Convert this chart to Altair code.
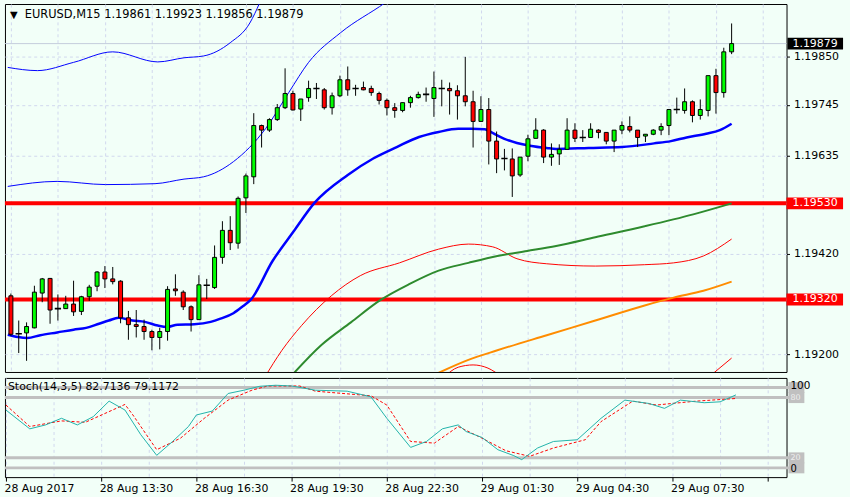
import altair as alt
import pandas as pd
import numpy as np

# ---------------- data ----------------
symbol = "EURUSD,M15"
time_label_idx = [0, 12, 24, 36, 48, 60, 72, 84]
time_labels = ["28 Aug 2017", "28 Aug 13:30", "28 Aug 16:30", "28 Aug 19:30",
               "28 Aug 22:30", "29 Aug 01:30", "29 Aug 04:30", "29 Aug 07:30"]
price_ticks = [1.19850, 1.19745, 1.19635, 1.19530, 1.19420, 1.19320, 1.19200]
levels = [1.19530, 1.19320]

opens = [1.19328, 1.19245, 1.19247, 1.19258, 1.19334, 1.19366, 1.19300, 1.19300, 1.19310, 1.19294,
         1.19326, 1.19349, 1.19380, 1.19365, 1.19360, 1.19280, 1.19265, 1.19261, 1.19250, 1.19237,
         1.19250, 1.19343, 1.19336, 1.19304, 1.19276, 1.19351, 1.19346, 1.19412, 1.19471, 1.19443,
         1.19542, 1.19588, 1.19700, 1.19690, 1.19713, 1.19739, 1.19770, 1.19736, 1.19761, 1.19781,
         1.19778, 1.19739, 1.19765, 1.19800, 1.19781, 1.19783, 1.19781, 1.19770, 1.19755, 1.19739,
         1.19733, 1.19750, 1.19761, 1.19768, 1.19759, 1.19781, 1.19781, 1.19776, 1.19765, 1.19752,
         1.19709, 1.19735, 1.19666, 1.19628, 1.19627, 1.19592, 1.19633, 1.19672, 1.19690, 1.19631,
         1.19638, 1.19648, 1.19690, 1.19674, 1.19674, 1.19690, 1.19685, 1.19666, 1.19690, 1.19698,
         1.19690, 1.19677, 1.19681, 1.19690, 1.19700, 1.19735, 1.19733, 1.19752, 1.19722, 1.19733,
         1.19809, 1.19772, 1.19861]
highs = [1.19333, 1.19274, 1.19270, 1.19350, 1.19367, 1.19367, 1.19331, 1.19328, 1.19361, 1.19328,
         1.19352, 1.19382, 1.19393, 1.19391, 1.19362, 1.19295, 1.19297, 1.19276, 1.19254, 1.19258,
         1.19349, 1.19375, 1.19340, 1.19307, 1.19373, 1.19365, 1.19438, 1.19491, 1.19502, 1.19545,
         1.19595, 1.19727, 1.19702, 1.19716, 1.19747, 1.19825, 1.19776, 1.19758, 1.19798, 1.19793,
         1.19782, 1.19772, 1.19809, 1.19829, 1.19789, 1.19796, 1.19787, 1.19774, 1.19759, 1.19749,
         1.19750, 1.19765, 1.19774, 1.19783, 1.19818, 1.19800, 1.19794, 1.19788, 1.19850, 1.19776,
         1.19764, 1.19760, 1.19687, 1.19649, 1.19650, 1.19631, 1.19680, 1.19716, 1.19692, 1.19661,
         1.19659, 1.19716, 1.19705, 1.19690, 1.19705, 1.19692, 1.19685, 1.19690, 1.19709, 1.19720,
         1.19690, 1.19681, 1.19692, 1.19705, 1.19735, 1.19761, 1.19781, 1.19755, 1.19757, 1.19809,
         1.19824, 1.19870, 1.19923]
lows = [1.19240, 1.19203, 1.19186, 1.19257, 1.19314, 1.19267, 1.19274, 1.19300, 1.19284, 1.19286,
        1.19317, 1.19338, 1.19345, 1.19353, 1.19268, 1.19232, 1.19237, 1.19232, 1.19209, 1.19211,
        1.19230, 1.19328, 1.19297, 1.19250, 1.19276, 1.19321, 1.19343, 1.19398, 1.19428, 1.19431,
        1.19509, 1.19572, 1.19652, 1.19686, 1.19710, 1.19736, 1.19733, 1.19710, 1.19752, 1.19758,
        1.19735, 1.19724, 1.19762, 1.19765, 1.19765, 1.19777, 1.19765, 1.19746, 1.19722, 1.19717,
        1.19729, 1.19739, 1.19759, 1.19752, 1.19719, 1.19742, 1.19724, 1.19713, 1.19742, 1.19652,
        1.19709, 1.19615, 1.19596, 1.19602, 1.19544, 1.19588, 1.19622, 1.19672, 1.19618, 1.19612,
        1.19614, 1.19648, 1.19664, 1.19664, 1.19674, 1.19672, 1.19659, 1.19642, 1.19681, 1.19685,
        1.19653, 1.19664, 1.19679, 1.19679, 1.19679, 1.19726, 1.19726, 1.19707, 1.19713, 1.19720,
        1.19726, 1.19761, 1.19856]
closes = [1.19244, 1.19245, 1.19261, 1.19336, 1.19365, 1.19297, 1.19300, 1.19310, 1.19293, 1.19326,
          1.19347, 1.19380, 1.19365, 1.19359, 1.19280, 1.19265, 1.19261, 1.19250, 1.19237, 1.19250,
          1.19342, 1.19339, 1.19304, 1.19276, 1.19352, 1.19351, 1.19412, 1.19471, 1.19444, 1.19541,
          1.19590, 1.19700, 1.19690, 1.19713, 1.19739, 1.19770, 1.19734, 1.19758, 1.19781, 1.19781,
          1.19739, 1.19765, 1.19800, 1.19778, 1.19781, 1.19778, 1.19772, 1.19755, 1.19739, 1.19733,
          1.19750, 1.19761, 1.19768, 1.19768, 1.19783, 1.19781, 1.19776, 1.19765, 1.19752, 1.19709,
          1.19735, 1.19666, 1.19627, 1.19628, 1.19590, 1.19631, 1.19671, 1.19690, 1.19631, 1.19637,
          1.19648, 1.19690, 1.19672, 1.19674, 1.19692, 1.19685, 1.19666, 1.19690, 1.19700, 1.19690,
          1.19674, 1.19681, 1.19690, 1.19698, 1.19735, 1.19735, 1.19752, 1.19722, 1.19735, 1.19809,
          1.19772, 1.19861, 1.19879]

# thick blue moving average
ma_idx = [-0.4, 0.9, 2.1, 3.75, 5.9, 8, 9.6, 11.25, 12.5, 13.75, 15.5, 17.1, 18.75, 20, 21.25,
          23.4, 25.5, 26.75, 28.4, 29.6, 30.6, 33.4, 36.1, 38.75, 43, 46.25, 49.25, 52.1, 54.6,
          57.1, 58.75, 60.5, 61.25, 63, 64.6, 66.25, 68.4, 69.6, 73.75, 78, 82.1, 84.25, 86.25,
          88.75, 90.5, 92]
ma_val = [1.19243, 1.19238, 1.19236, 1.19242, 1.19248, 1.19254, 1.19258, 1.19267, 1.19274, 1.19280,
          1.19274, 1.19271, 1.19263, 1.19260, 1.19265, 1.19266, 1.19271, 1.19278, 1.19290, 1.19305,
          1.19319, 1.19404, 1.19469, 1.19531, 1.19592, 1.19628, 1.19653, 1.19675, 1.19686, 1.19693,
          1.19693, 1.19692, 1.19686, 1.19671, 1.19662, 1.19656, 1.19651, 1.19649, 1.19651, 1.19653,
          1.19661, 1.19666, 1.19674, 1.19682, 1.19690, 1.19704]
# thin blue upper bands
up1_idx = [-0.4, 3.4, 8, 13, 18.75, 22.1, 24.6, 28, 30.5, 31.75, 32.75]
up1_val = [1.19827, 1.19820, 1.19838, 1.19861, 1.19839, 1.19848, 1.19852, 1.19881, 1.19924, 1.19968, 1.20011]
up2_idx = [-0.4, 5.9, 12.1, 18.4, 22.1, 24.6, 28.4, 32.5, 35.5, 38, 42.1, 47.75, 49.5]
up2_val = [1.19567, 1.19578, 1.19571, 1.19573, 1.19583, 1.19588, 1.19621, 1.19693, 1.19773, 1.19838,
           1.19903, 1.19968, 1.19990]
# thin red lower bands
lo1_idx = [32.4, 34.6, 37.1, 40.9, 44.6, 49.6, 54.6, 58.4, 61.5, 64.6, 68.4, 74.6, 80.9, 84.6, 88.4, 92]
lo1_val = [1.19150, 1.19209, 1.19263, 1.19328, 1.19372, 1.19400, 1.19430, 1.19441, 1.19435, 1.19409,
           1.19398, 1.19393, 1.19396, 1.19400, 1.19415, 1.19452]
lo2a_idx = [55.25, 57.1, 59, 60.9, 62.75]
lo2a_val = [1.19150, 1.19172, 1.19177, 1.19170, 1.19150]
lo2b_idx = [89.4, 92]
lo2b_val = [1.19155, 1.19192]
# green and orange moving averages
grn_idx = [35.9, 39.6, 43.4, 47.1, 50.9, 54.6, 58.4, 62.1, 65.9, 69.6, 74.6, 80.9, 87.1, 92]
grn_val = [1.19155, 1.19220, 1.19270, 1.19318, 1.19354, 1.19383, 1.19400, 1.19415, 1.19426, 1.19437,
           1.19456, 1.19480, 1.19506, 1.19530]
org_idx = [54, 58.4, 62.1, 68.4, 74.6, 80.9, 84.6, 88.4, 92]
org_val = [1.19155, 1.19188, 1.19209, 1.19242, 1.19274, 1.19307, 1.19324, 1.19339, 1.19359]

# stochastic
stoch_name = "Stoch(14,3,5)"
stoch_k_idx = [0, 3, 5, 7, 9, 11, 13, 15, 17, 19, 21, 23, 24, 26, 28, 30, 32, 34, 36, 39, 43, 46,
               48, 51, 53, 55, 57, 58, 60, 62, 64, 65, 67, 69, 72, 75, 78, 81, 83, 85, 88, 90, 92]
stoch_k = [67.6, 48.9, 52.8, 59.4, 52.8, 61.0, 76.5, 67.6, 43.0, 22.5, 36.3, 51.2, 62.7, 66.6, 84.1,
           87.4, 91.3, 92.3, 91.6, 87.4, 86.4, 80.8, 59.4, 30.4, 36.3, 48.9, 52.8, 46.2, 40.3, 28.1,
           22.2, 18.2, 29.8, 36.3, 38.0, 59.4, 77.5, 74.2, 69.3, 77.5, 74.9, 75.8, 82.7136]
stoch_d_idx = [0, 3, 7, 10, 15, 16, 19, 22, 25, 28, 31, 33, 37, 39, 46, 48, 51, 54, 57, 60, 63,
               66, 69, 73, 75, 79, 82, 84, 87, 92]
stoch_d = [72.6, 51.2, 56.8, 55.4, 73.2, 62.7, 28.1, 39.6, 59.4, 77.5, 87.4, 91.6, 91.6, 86.4, 81.8,
           72.6, 36.3, 34.7, 51.2, 39.6, 27.1, 21.5, 29.8, 38.0, 56.1, 76.5, 72.6, 74.2, 76.5, 79.1172]
stoch_levels = [90, 80, 20, 10]
stoch_level_texts = ["", "80", "20", ""]   # 90 and 10 tags are hidden under the scale labels
stoch_scale_labels = ["100", "0"]

# ---------------- styling ----------------
BG = "#F2FFF8"
GRID = "#D0D8EE"
FONT = "DejaVu Sans"
W = 788
H_MAIN = 371
H_STO = 100

xs = alt.Scale(domain=[-0.125, 98.375], nice=False, zero=False)
ys = alt.Scale(domain=[1.191616, 1.199655], nice=False, zero=False)
ss = alt.Scale(domain=[0.8, 99.6], nice=False, zero=False)

x_axis_main = alt.Axis(values=list(range(0, 97, 6)), grid=True, labels=False, ticks=False,
                       domain=False, title=None, gridDash=[3, 3], gridColor=GRID)
y_axis_main = alt.Axis(orient="right", values=price_ticks, format=".5f", grid=True, gridDash=[3, 3],
                       gridColor=GRID, tickSize=3, labelPadding=4, domain=False, title=None,
                       labelFontSize=11, labelFont=FONT, labelColor="black", tickColor="black")

label_expr = " : ".join(f"datum.value === {k} ? '{t}'" for k, t in zip(time_label_idx, time_labels)) + " : ''"
x_axis_sto = alt.Axis(values=list(range(0, 97, 6)), grid=True, gridDash=[3, 3], gridColor=GRID,
                      labelExpr=label_expr, labelAlign="left", labelFlush=False, labelOverlap=False,
                      tickSize=4, labelPadding=2, domain=False, title=None, labelOffset=-2,
                      tickOpacity={"condition": {"test": "datum.value % 12 === 0", "value": 1}, "value": 0},
                      labelFontSize=11, labelFont=FONT, labelColor="black", tickColor="black")

X = alt.X("i:Q", scale=xs, axis=x_axis_main)

n = len(opens)
candles = pd.DataFrame({"i": range(n), "o": opens, "h": highs, "l": lows, "c": closes})
candles["top"] = candles[["o", "c"]].max(axis=1)
candles["bot"] = candles[["o", "c"]].min(axis=1)
candles["kind"] = np.where((candles["c"] - candles["o"]).abs() < 0.000015, "doji",
                           np.where(candles["c"] > candles["o"], "up", "down"))

wicks = alt.Chart(candles).mark_rule(color="black", strokeWidth=1, clip=True).encode(
    x=X, y=alt.Y("l:Q", scale=ys, axis=y_axis_main), y2="h:Q")
bodies = alt.Chart(candles[candles["kind"] != "doji"]).mark_bar(
    size=4, stroke="black", strokeWidth=1, clip=True).encode(
    x=X, y=alt.Y("bot:Q", scale=ys, axis=y_axis_main), y2="top:Q",
    color=alt.Color("kind:N", scale=alt.Scale(domain=["up", "down"], range=["#00FF00", "#FF0000"]),
                    legend=None))
dojis = alt.Chart(candles[candles["kind"] == "doji"]).transform_calculate(
    xl="datum.i - 0.4", xr="datum.i + 0.4").mark_rule(color="black", strokeWidth=1.6, clip=True).encode(
    x=alt.X("xl:Q", scale=xs, axis=x_axis_main), x2="xr:Q",
    y=alt.Y("o:Q", scale=ys, axis=y_axis_main))


def line(idx, vals, color, width, dash=None, interp="monotone"):
    df = pd.DataFrame({"i": idx, "p": vals})
    kw = dict(color=color, strokeWidth=width, clip=True, interpolate=interp)
    if dash:
        kw["strokeDash"] = dash
    return alt.Chart(df).mark_line(**kw).encode(x=X, y=alt.Y("p:Q", scale=ys, axis=y_axis_main))


lines = [
    line(up1_idx, up1_val, "#0000FF", 1),
    line(up2_idx, up2_val, "#0000FF", 1),
    line(lo1_idx, lo1_val, "#FF0000", 1),
    line(lo2a_idx, lo2a_val, "#FF0000", 1),
    line(lo2b_idx, lo2b_val, "#FF0000", 1),
    line(org_idx, org_val, "#FF8C00", 2),
    line(grn_idx, grn_val, "#2E8B2E", 2),
    line(ma_idx, ma_val, "#0000FF", 2.5),
]

bid = alt.Chart(pd.DataFrame({"p": [closes[-1]]})).mark_rule(color="#C4CCDC", strokeWidth=1).encode(
    x=alt.value(0), x2=alt.value(W), y=alt.Y("p:Q", scale=ys, axis=y_axis_main))

lvl_df = pd.DataFrame({"p": levels, "t": [f"{v:.5f}" for v in levels]})
lvl_lines = alt.Chart(lvl_df).mark_rule(color="#FF0000", strokeWidth=4).encode(
    x=alt.value(0), x2=alt.value(W), y=alt.Y("p:Q", scale=ys, axis=y_axis_main))
lvl_box = alt.Chart(lvl_df).mark_rule(color="#FF0000", strokeWidth=12).encode(
    x=alt.value(W), x2=alt.value(W + 57), y=alt.Y("p:Q", scale=ys, axis=y_axis_main))
lvl_txt = alt.Chart(lvl_df).mark_text(align="left", baseline="middle", color="white",
                                      font=FONT, fontSize=11).encode(
    x=alt.value(W + 6), y=alt.Y("p:Q", scale=ys, axis=y_axis_main), text="t:N")

last_df = pd.DataFrame({"p": [closes[-1]], "t": [f"{closes[-1]:.5f}"]})
last_box = alt.Chart(last_df).mark_rule(color="black", strokeWidth=12).encode(
    x=alt.value(W + 1), x2=alt.value(W + 57), y=alt.Y("p:Q", scale=ys, axis=y_axis_main))
last_txt = alt.Chart(last_df).mark_text(align="left", baseline="middle", color="white",
                                        font=FONT, fontSize=11).encode(
    x=alt.value(W + 6), y=alt.Y("p:Q", scale=ys, axis=y_axis_main), text="t:N")

header = f"{symbol}  {opens[-1]:.5f} {highs[-1]:.5f} {lows[-1]:.5f} {closes[-1]:.5f}"
head_tri = alt.Chart(pd.DataFrame({"t": ["▼"]})).mark_text(
    align="left", baseline="middle", font=FONT, fontSize=10, color="black").encode(
    x=alt.value(5), y=alt.value(11), text="t:N")
head_txt = alt.Chart(pd.DataFrame({"t": [header]})).mark_text(
    align="left", baseline="middle", font=FONT, fontSize=11.5, color="black").encode(
    x=alt.value(20), y=alt.value(11), text="t:N")

main = alt.layer(bid, *lines[:5], lvl_lines, lines[5], lines[6], lines[7], wicks, bodies, dojis,
                 lvl_box, lvl_txt, last_box, last_txt, head_tri, head_txt).properties(
    width=W, height=H_MAIN)

# ---------------- stochastic panel ----------------
XS = alt.X("i:Q", scale=xs, axis=x_axis_sto)
lev_df = pd.DataFrame({"v": stoch_levels, "t": stoch_level_texts})
lev_lines = alt.Chart(lev_df).mark_rule(color="#C0C0C0", strokeWidth=3).encode(
    x=alt.value(0), x2=alt.value(W + 16), y=alt.Y("v:Q", scale=ss, axis=None))
lev_box = alt.Chart(lev_df).mark_rule(color="#C0C0C0", strokeWidth=11).encode(
    x=alt.value(W + 2), x2=alt.value(W + 18), y=alt.Y("v:Q", scale=ss, axis=None))
lev_txt = alt.Chart(lev_df[lev_df["t"] != ""]).mark_text(
    align="left", baseline="middle", color="#EEEEEE", font=FONT, fontSize=8).encode(
    x=alt.value(W + 4), y=alt.Y("v:Q", scale=ss, axis=None), text="t:N")
top_txt = alt.Chart(pd.DataFrame({"v": [stoch_levels[0]], "t": [stoch_scale_labels[0]]})).mark_text(
    align="left", baseline="middle", color="black", font=FONT, fontSize=10.5, dy=-1.5).encode(
    x=alt.value(W + 4), y=alt.Y("v:Q", scale=ss, axis=None), text="t:N")
bot_txt = alt.Chart(pd.DataFrame({"v": [stoch_levels[-1]], "t": [stoch_scale_labels[1]]})).mark_text(
    align="left", baseline="middle", color="black", font=FONT, fontSize=10, dy=1.5).encode(
    x=alt.value(W + 4), y=alt.Y("v:Q", scale=ss, axis=None), text="t:N")

k_df = pd.DataFrame({"i": stoch_k_idx, "v": stoch_k})
d_df = pd.DataFrame({"i": stoch_d_idx, "v": stoch_d})
k_line = alt.Chart(k_df).mark_line(color="#20B2AA", strokeWidth=1, clip=True).encode(
    x=XS, y=alt.Y("v:Q", scale=ss, axis=None))
d_line = alt.Chart(d_df).mark_line(color="#FF0000", strokeWidth=1, strokeDash=[3, 2], clip=True).encode(
    x=XS, y=alt.Y("v:Q", scale=ss, axis=None))

sto_head = f"{stoch_name} {stoch_k[-1]:.4f} {stoch_d[-1]:.4f}"
sto_txt = alt.Chart(pd.DataFrame({"t": [sto_head]})).mark_text(
    align="left", baseline="middle", font=FONT, fontSize=11, color="black").encode(
    x=alt.value(3), y=alt.value(9), text="t:N")

stoch = alt.layer(lev_lines, d_line, k_line, lev_box, lev_txt, top_txt, bot_txt, sto_txt).properties(
    width=W, height=H_STO)

chart = alt.vconcat(main, stoch, spacing=4).properties(
    padding={"left": 2, "top": 1, "right": 0, "bottom": 0}, background=BG
).configure_view(stroke="black", strokeWidth=1, fill=BG).configure_axis(
    labelFont=FONT, labelFontSize=11, labelColor="black")

chart.save("out.html", embed_options={"renderer": "svg", "actions": False})
